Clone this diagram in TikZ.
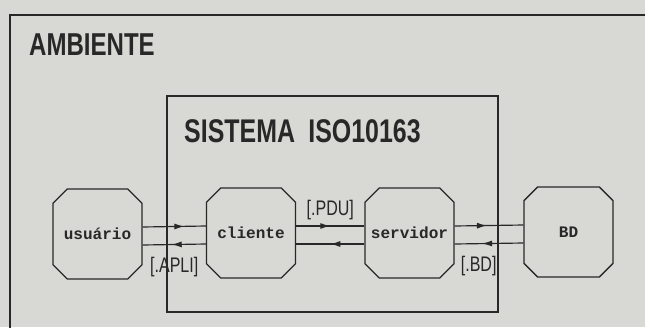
\documentclass[tikz,border=0pt]{standalone}
\usepackage{fontspec}
\usetikzlibrary{shapes.misc,arrows.meta,decorations.markings}
\newfontfamily\titlefont[FakeStretch=0.76]{Liberation Sans}
\newfontfamily\boxfont{Liberation Mono}
\definecolor{paper}{RGB}{216,216,212}
\definecolor{ink}{RGB}{40,40,40}
\tikzset{
  entity/.style={draw=ink, line width=1.1pt, chamfered rectangle,
    chamfered rectangle xsep=0.25cm, chamfered rectangle ysep=0.25cm,
    minimum width=2.67cm, minimum height=2.7cm, inner sep=0pt,
    font=\boxfont\bfseries\fontsize{13.7}{15}\selectfont, text=ink},
  flow/.style={draw=ink, line width=1pt, postaction={decorate},
    decoration={markings, mark=at position #1 with {\arrow{Latex[length=3mm,width=1.8mm]}}}},
  flow/.default=0.55,
  tag/.style={font=\titlefont\fontsize{18}{20}\selectfont, text=ink, inner sep=0pt}
}
\begin{document}
\begin{tikzpicture}[x=0.03cm, y=-0.03cm]
\useasboundingbox[fill=paper] (0,0) rectangle (645,327);
% ambiente e sistema
\draw[ink, line width=1.4pt] (10,340) -- (10,15) -- (660,15);
\draw[ink, line width=1.2pt] (167,96) rectangle (498,312);
\node[anchor=base west, inner sep=0pt, text=ink, font=\titlefont\bfseries\fontsize{27}{30}\selectfont] (ambiente) at (29,55) {AMBIENTE};
\node[anchor=base west, inner sep=0pt, text=ink, font=\titlefont\bfseries\fontsize{28}{30}\selectfont] (sistema) at (184,142) {SISTEMA\hspace{0.4cm}ISO10163};
% entidades
\node[entity] (usuario) at (97.5,234) {usuário};
\node[entity] (cliente) at (251,233) {cliente};
\node[entity] (servidor) at (409.5,233) {servidor};
\node[entity] (bd) at (568.5,232) {BD};
% fluxos
\draw[flow=0.66] ([yshift=0.21cm]usuario.east) -- ([yshift=0.21cm]cliente.west);
\draw[flow=0.54] ([yshift=-0.33cm]cliente.west) -- ([yshift=-0.33cm]usuario.east)
  node[tag, pos=0.5, below=10pt] (apli) {[.APLI]};
\draw[flow=0.5] ([yshift=0.21cm]cliente.east) -- ([yshift=0.21cm]servidor.west)
  node[tag, pos=0.5, above=5pt] (pdu) {[.PDU]};
\draw[flow=0.5] ([yshift=-0.33cm]servidor.west) -- ([yshift=-0.33cm]cliente.east);
\draw[flow=0.47] ([yshift=0.21cm]servidor.east) -- ([yshift=0.21cm]bd.west);
\draw[flow=0.6] ([yshift=-0.33cm]bd.west) -- ([yshift=-0.33cm]servidor.east)
  node[tag, pos=0.65, below=10pt] (bdtag) {[.BD]};
\end{tikzpicture}
\end{document}
